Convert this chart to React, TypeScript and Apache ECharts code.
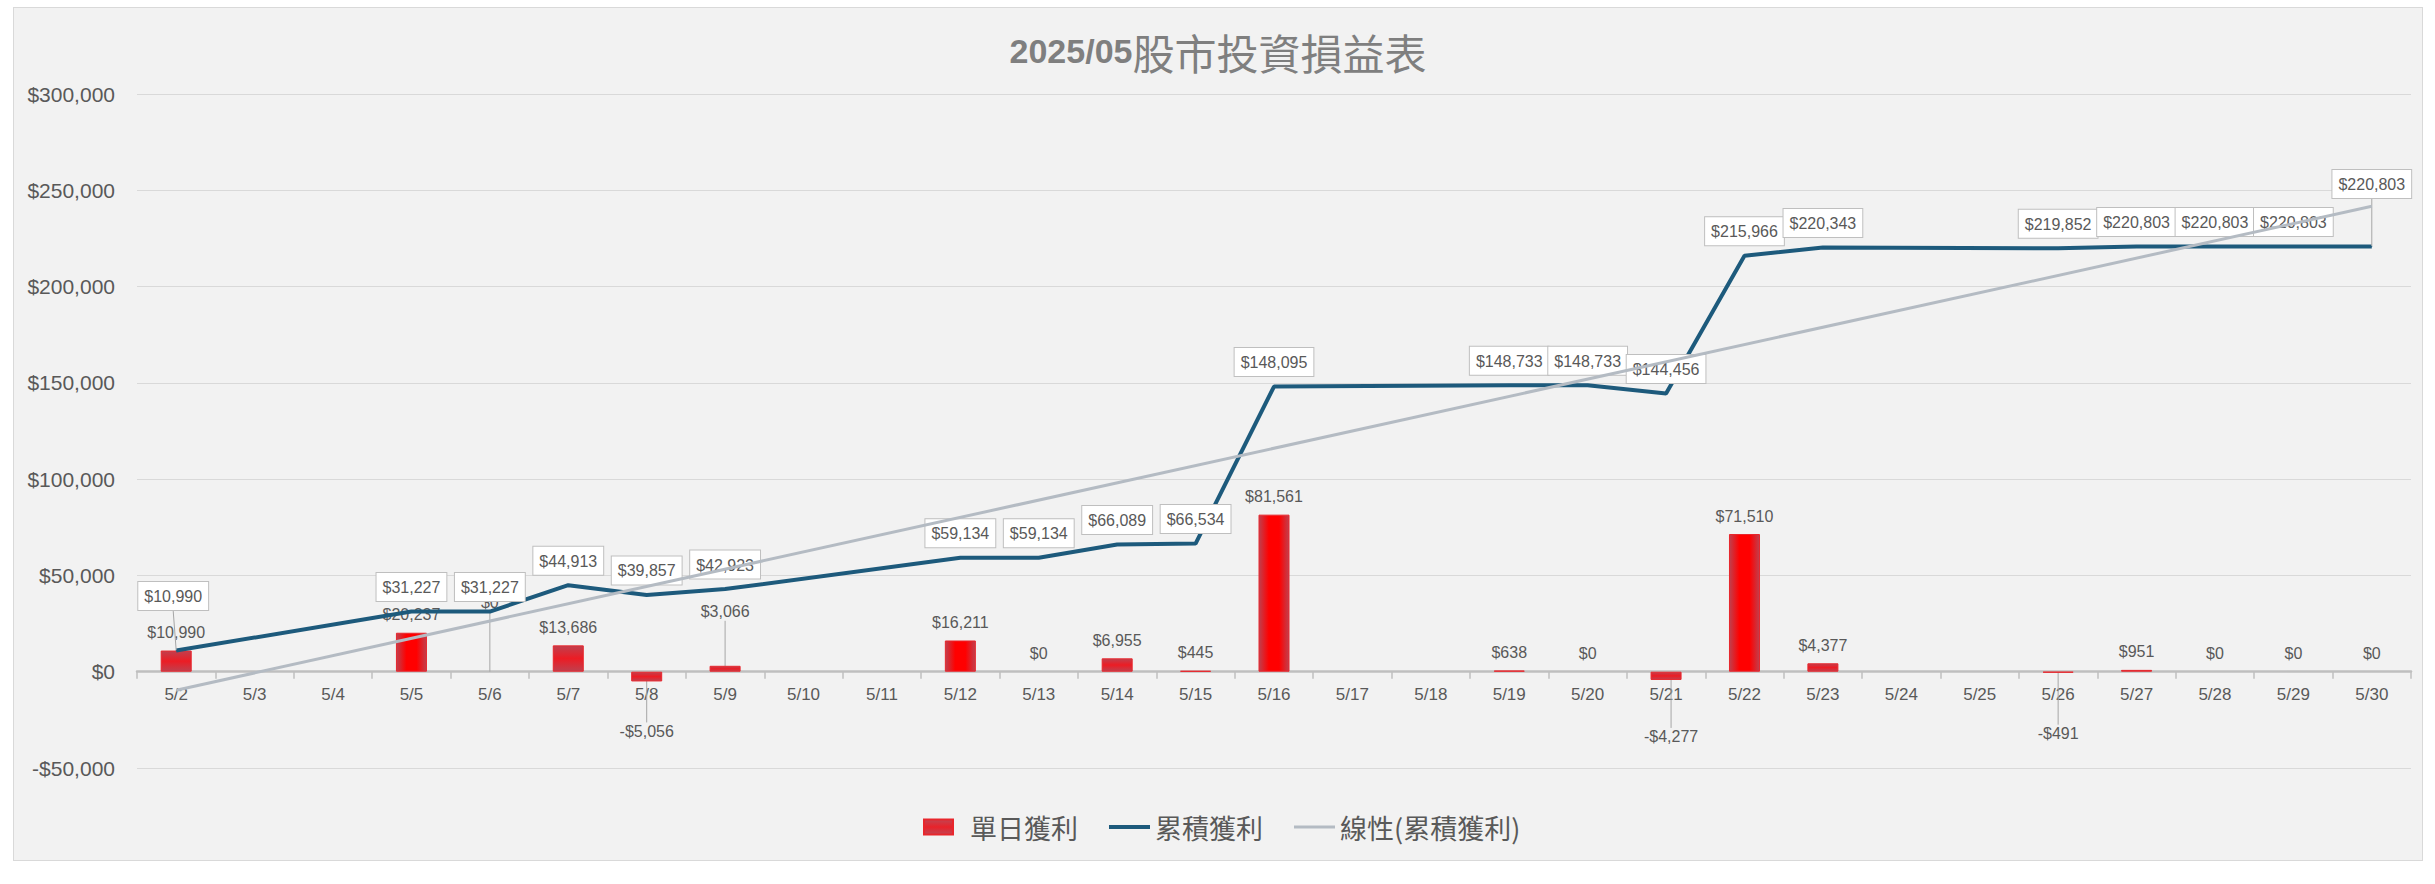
import React, { useEffect, useRef } from "react";
import * as echarts from "echarts";

// ---------- data ----------
const categories = [
  "5/2", "5/3", "5/4", "5/5", "5/6", "5/7", "5/8", "5/9", "5/10", "5/11",
  "5/12", "5/13", "5/14", "5/15", "5/16", "5/17", "5/18", "5/19", "5/20", "5/21",
  "5/22", "5/23", "5/24", "5/25", "5/26", "5/27", "5/28", "5/29", "5/30",
];

const dailyProfit: (number | null)[] = [
  10990, null, null, 20237, 0, 13686, -5056, 3066, null, null,
  16211, 0, 6955, 445, 81561, null, null, 638, 0, -4277,
  71510, 4377, null, null, -491, 951, 0, 0, 0,
];

const cumulativeProfit: (number | null)[] = [
  10990, null, null, 31227, 31227, 44913, 39857, 42923, null, null,
  59134, 59134, 66089, 66534, 148095, null, null, 148733, 148733, 144456,
  215966, 220343, null, null, 219852, 220803, 220803, 220803, 220803,
];

// linear trendline: straight line, endpoints
const trendProfit: (number | null)[] = [
  -9600, null, null, null, null, null, null, null, null, null,
  null, null, null, null, null, null, null, null, null, null,
  null, null, null, null, null, null, null, null, 241700,
];

const seriesNames = ["單日獲利", "累積獲利", "線性(累積獲利)"];
const chartTitleYear = "2025/05";
const chartTitleText = "股市投資損益表";

const yMin = -50000;
const yMax = 300000;
const yStep = 50000;

// ---------- layout / style (label offsets of manually moved labels) ----------
const barLabelShift: Record<number, [number, number]> = {
  4: [0, -51],
  6: [0, 32],
  7: [0, -36],
  19: [5, 39],
  24: [0, 43],
};
const lineLabelShift: Record<number, [number, number]> = {
  0: [-3, -30],
  28: [0, -38],
};

const GRID_TOP = 86;
const GRID_BOTTOM = 92;
const CHART_W = 2408;
const CHART_H = 852;

const NUM_FONT = "'Liberation Sans', Arial, sans-serif";
const CJK_FONT = "'Noto Sans CJK TC', 'Noto Sans CJK SC', sans-serif";
const TEXT = "#595959";
const EDGE = "#c0404e";

const money = (v: number) =>
  (v < 0 ? "-$" : "$") + Math.abs(v).toLocaleString("en-US");

const hGrad = () =>
  new echarts.graphic.LinearGradient(0, 0, 1, 0, [
    { offset: 0, color: EDGE },
    { offset: 0.33, color: "#ff0000" },
    { offset: 0.67, color: "#ff0000" },
    { offset: 1, color: EDGE },
  ]);
const vGrad = () =>
  new echarts.graphic.LinearGradient(0, 0, 0, 1, [
    { offset: 0, color: EDGE },
    { offset: 0.5, color: "#ec1c24" },
    { offset: 1, color: EDGE },
  ]);

function buildOption(): echarts.EChartsOption {
  const plotH = CHART_H - GRID_TOP - GRID_BOTTOM;
  // move the category axis up onto the zero line of the value axis
  const zeroOffset = -((0 - yMin) / (yMax - yMin)) * plotH;

  const barData = dailyProfit.map((v, i) => {
    if (v == null) return "-";
    const item: any = {
      value: v,
      itemStyle: {
        color: Math.abs(v) >= 15000 ? hGrad() : vGrad(),
        borderWidth: v === 0 ? 0 : 1,
      },
    };
    if (v < 0) item.label = { position: "bottom" };
    if (barLabelShift[i]) item.labelLine = { show: true };
    return item;
  });

  const lineData = cumulativeProfit.map((v, i) => {
    if (v == null) return "-";
    if (lineLabelShift[i]) return { value: v, labelLine: { show: true } };
    return v;
  });

  const trendData = trendProfit.map((v) => (v == null ? "-" : v));

  return {
    animation: false,
    backgroundColor: "transparent",
    title: {
      text: `{b|${chartTitleYear}}{n|${chartTitleText}}`,
      left: "center",
      top: 14,
      textStyle: {
        rich: {
          b: {
            fontFamily: NUM_FONT,
            fontWeight: "bold",
            fontSize: 34,
            color: "#7f7f7f",
            lineHeight: 48,
          },
          n: {
            fontFamily: CJK_FONT,
            fontWeight: "normal",
            fontSize: 42,
            color: "#7f7f7f",
            lineHeight: 48,
          },
        },
      },
    },
    legend: {
      left: 909,
      top: 804,
      padding: 0,
      itemWidth: 41,
      itemHeight: 15,
      itemGap: 31,
      textStyle: {
        fontFamily: CJK_FONT,
        fontSize: 27,
        color: TEXT,
        lineHeight: 30,
      },
      data: [
        {
          name: seriesNames[0],
          icon: "path://M0,0L29,0L29,15L0,15ZM41,7.5",
          itemStyle: {
            color: new echarts.graphic.LinearGradient(0, 0, 0, 1, [
              { offset: 0, color: "#c24452" },
              { offset: 0.5, color: "#e8222a" },
              { offset: 1, color: "#c24452" },
            ]),
          },
        },
        {
          name: seriesNames[1],
          icon: "path://M0,5.5L41,5.5L41,9.5L0,9.5ZM0,0M0,15",
          itemStyle: { borderWidth: 0 },
        },
        {
          name: seriesNames[2],
          icon: "path://M0,6L41,6L41,9L0,9ZM0,0M0,15",
          itemStyle: { borderWidth: 0 },
        },
      ] as any,
    },
    grid: { left: 123, right: 11, top: GRID_TOP, bottom: GRID_BOTTOM, containLabel: false },
    xAxis: {
      type: "category",
      data: categories,
      boundaryGap: true,
      position: "bottom",
      offset: zeroOffset,
      axisLine: { onZero: false, lineStyle: { color: "#bfbfbf", width: 2.5 } },
      axisTick: { show: true, length: 7, lineStyle: { color: "#bfbfbf", width: 1.5 } },
      axisLabel: {
        interval: 0,
        fontFamily: NUM_FONT,
        fontSize: 17,
        color: TEXT,
        margin: 14,
      },
      splitLine: { show: false },
    },
    yAxis: {
      type: "value",
      min: yMin,
      max: yMax,
      interval: yStep,
      axisLine: { show: false },
      axisTick: { show: false },
      axisLabel: {
        formatter: (v: number) => money(v),
        fontFamily: NUM_FONT,
        fontSize: 21,
        color: TEXT,
        margin: 22,
      },
      splitLine: { lineStyle: { color: "#d9d9d9", width: 1 } },
    },
    series: [
      {
        name: seriesNames[0],
        type: "bar",
        z: 1,
        barWidth: 31,
        data: barData,
        itemStyle: { color: hGrad(), borderColor: "#e8262c", borderWidth: 1 },
        label: {
          show: true,
          position: "top",
          distance: 9,
          formatter: (p: any) => money(Number(p.value)),
          fontFamily: NUM_FONT,
          fontSize: 16,
          lineHeight: 18,
          color: TEXT,
        },
        labelLine: { show: false, lineStyle: { color: "#a6a6a6", width: 1 } },
        labelLayout: (p: any) => {
          const s = barLabelShift[p.dataIndex];
          return s ? { dx: s[0], dy: s[1] } : {};
        },
        emphasis: { disabled: true },
      } as any,
      {
        name: seriesNames[1],
        type: "line",
        z: 3,
        connectNulls: true,
        symbol: "circle",
        symbolSize: 1,
        showSymbol: true,
        data: lineData,
        lineStyle: { color: "#1d5a7c", width: 4 },
        itemStyle: { color: "#1d5a7c" },
        label: {
          show: true,
          position: "top",
          distance: 10,
          formatter: (p: any) => money(Number(p.value)),
          fontFamily: NUM_FONT,
          fontSize: 16,
          lineHeight: 17,
          color: TEXT,
          backgroundColor: "#ffffff",
          borderColor: "#bfbfbf",
          borderWidth: 1,
          padding: [6, 6, 5, 6],
        },
        labelLine: { show: false, lineStyle: { color: "#a6a6a6", width: 1 } },
        labelLayout: (p: any) => {
          const s = lineLabelShift[p.dataIndex];
          return s ? { dx: s[0], dy: s[1] } : {};
        },
        emphasis: { disabled: true },
      } as any,
      {
        name: seriesNames[2],
        type: "line",
        z: 4,
        connectNulls: true,
        symbol: "none",
        data: trendData,
        lineStyle: { color: "#b4bbc3", width: 3 },
        itemStyle: { color: "#b4bbc3" },
        silent: true,
        emphasis: { disabled: true },
      } as any,
    ],
  };
}

export default function App() {
  const ref = useRef<HTMLDivElement>(null);
  useEffect(() => {
    if (!ref.current) return;
    const chart = echarts.init(ref.current, null, { renderer: "svg" });
    chart.setOption(buildOption());
    return () => chart.dispose();
  }, []);
  return (
    <div
      style={{
        position: "absolute",
        left: 13,
        top: 7,
        width: CHART_W,
        height: CHART_H,
        border: "1px solid #d9d9d9",
        background: "#f2f2f2",
      }}
    >
      <div ref={ref} style={{ width: CHART_W, height: CHART_H }} />
    </div>
  );
}
